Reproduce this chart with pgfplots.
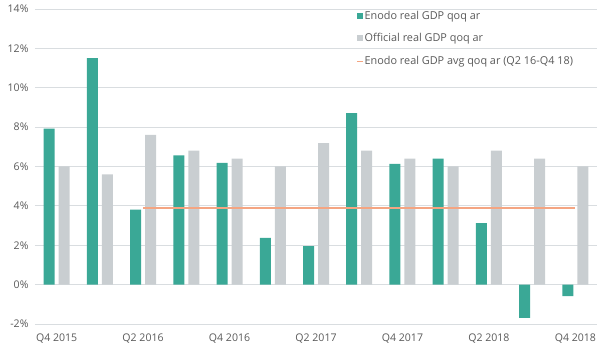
\documentclass[border=0pt]{standalone}
\usepackage{pgfplots}
\pgfplotsset{compat=1.18}
\usepackage{fontspec}
\setmainfont{Open Sans}
\definecolor{enodo}{HTML}{3AA896}
\definecolor{official}{HTML}{C9CED1}
\definecolor{avgline}{HTML}{F4A582}
\definecolor{gridc}{HTML}{D9DDE0}
\definecolor{txt}{HTML}{595959}
\begin{document}
\begin{tikzpicture}
\useasboundingbox (-35bp,-36bp) rectangle (565bp,324bp);
\begin{axis}[
  at={(0,0)}, anchor=south west,
  scale only axis, width=562bp, height=315bp,
  xmin=-0.5, xmax=12.5, ymin=-2, ymax=14,
  ytick={-2,0,2,4,6,8,10,12,14},
  yticklabel={\pgfmathprintnumber{\tick}\%},
  xtick={0,2,4,6,8,10,12},
  xticklabels={Q4 2015,Q2 2016,Q4 2016,Q2 2017,Q4 2017,Q2 2018,Q4 2018},
  /pgf/number format/assume math mode=true,
  axis line style={draw=none},
  major tick length=0pt,
  ymajorgrids, grid style={gridc, line width=0.8pt},
  tick label style={font=\fontsize{10.6}{12}\selectfont, text=txt},
  yticklabel style={xshift=-3bp},
  xticklabel style={yshift=-6bp},
  legend style={at={(rel axis cs:0.572,0.998)}, anchor=north west, draw=none, fill=none,
    font=\fontsize{10.9}{13}\selectfont, text=txt, row sep=11bp, inner sep=0pt,
    nodes={inner sep=1bp}},
  legend cell align=left,
]
\addplot[ybar, bar width=11bp, bar shift=-7.5bp, fill=enodo, draw=none,
  legend image code/.code={\fill[enodo] (0bp,-3bp) rectangle (6bp,3bp);}]
  coordinates {(0,7.92) (1,11.5) (2,3.81) (3,6.56) (4,6.19) (5,2.37) (6,1.95)
   (7,8.71) (8,6.13) (9,6.4) (10,3.13) (11,-1.69) (12,-0.59)};
\addlegendentry{Enodo real GDP qoq ar}
\addplot[ybar, bar width=11bp, bar shift=7.5bp, fill=official, draw=none,
  legend image code/.code={\fill[official] (0bp,-3bp) rectangle (6bp,3bp);}]
  coordinates {(0,6.0) (1,5.6) (2,7.61) (3,6.8) (4,6.4) (5,6.0) (6,7.19)
   (7,6.8) (8,6.4) (9,6.0) (10,6.8) (11,6.4) (12,6.0)};
\addlegendentry{Official real GDP qoq ar}
\addplot[sharp plot, no marks, avgline, line width=1.3pt,
  legend image code/.code={\draw[avgline, line width=1pt] (0bp,0bp) -- (6bp,0bp);}]
  coordinates {(2,3.89) (12,3.89)};
\addlegendentry{Enodo real GDP avg qoq ar (Q2 16-Q4 18)}
\end{axis}
\end{tikzpicture}
\end{document}
